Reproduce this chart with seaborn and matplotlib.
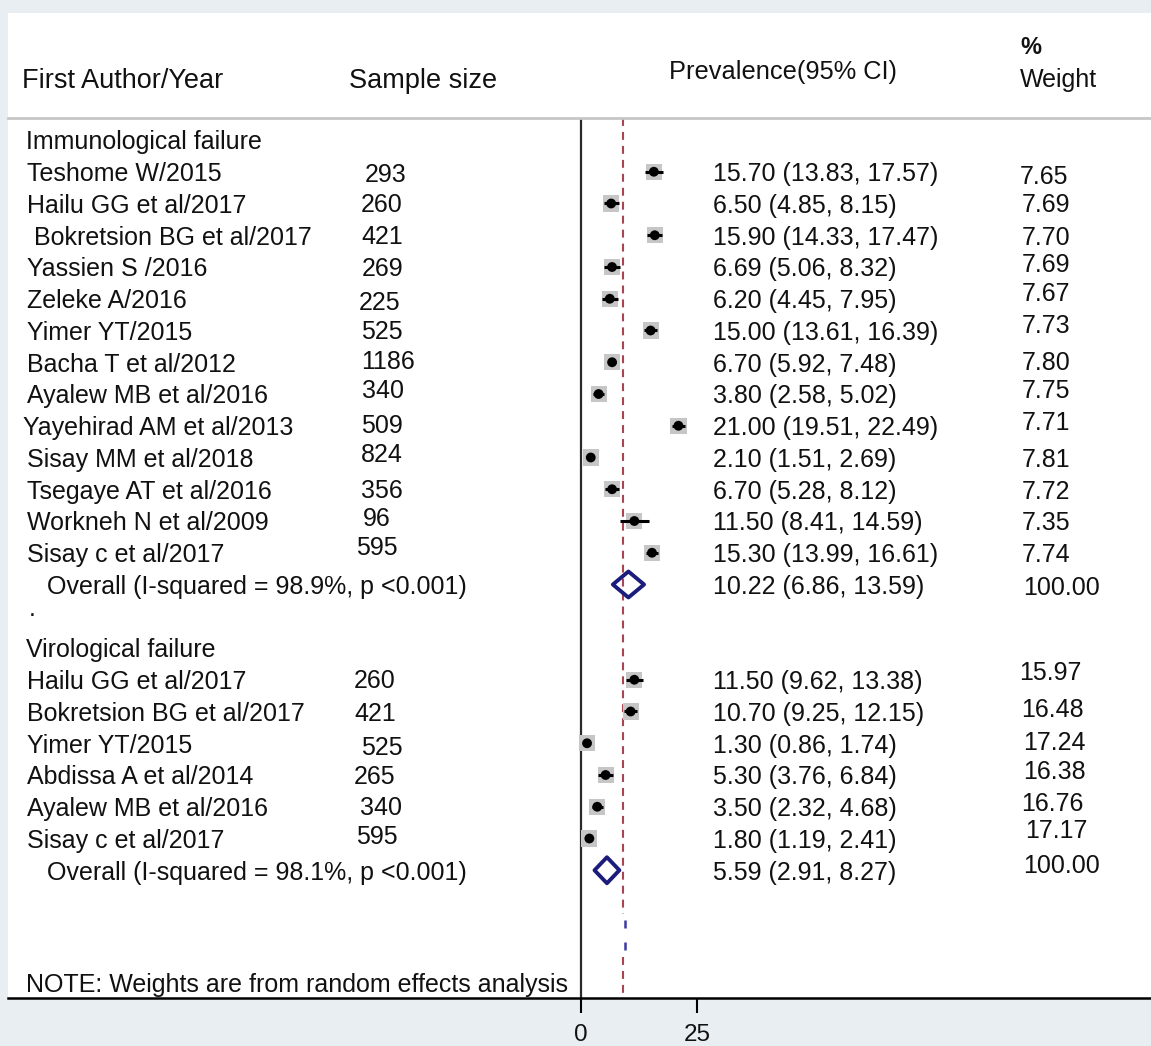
import matplotlib
matplotlib.use("Agg")
import matplotlib.pyplot as plt
import seaborn as sns
import pandas as pd
from matplotlib import transforms
from matplotlib.patches import Rectangle

# ---------------- data ----------------
immuno_authors = ["Teshome W/2015", "Hailu GG et al/2017", " Bokretsion BG et al/2017",
                  "Yassien S /2016", "Zeleke A/2016", "Yimer YT/2015", "Bacha T et al/2012",
                  "Ayalew MB et al/2016", "Yayehirad AM et al/2013", "Sisay MM et al/2018",
                  "Tsegaye AT et al/2016", "Workneh N et al/2009", "Sisay c et al/2017"]
immuno_n = [293, 260, 421, 269, 225, 525, 1186, 340, 509, 824, 356, 96, 595]
immuno_est = [15.70, 6.50, 15.90, 6.69, 6.20, 15.00, 6.70, 3.80, 21.00, 2.10, 6.70, 11.50, 15.30]
immuno_lo = [13.83, 4.85, 14.33, 5.06, 4.45, 13.61, 5.92, 2.58, 19.51, 1.51, 5.28, 8.41, 13.99]
immuno_hi = [17.57, 8.15, 17.47, 8.32, 7.95, 16.39, 7.48, 5.02, 22.49, 2.69, 8.12, 14.59, 16.61]
immuno_w = ["7.65", "7.69", "7.70", "7.69", "7.67", "7.73", "7.80", "7.75", "7.71", "7.81",
            "7.72", "7.35", "7.74"]
immuno_overall = [10.22, 6.86, 13.59]
immuno_overall_label = "Overall (I-squared = 98.9%, p <0.001)"

viro_authors = ["Hailu GG et al/2017", "Bokretsion BG et al/2017", "Yimer YT/2015",
                "Abdissa A et al/2014", "Ayalew MB et al/2016", "Sisay c et al/2017"]
viro_n = [260, 421, 525, 265, 340, 595]
viro_est = [11.50, 10.70, 1.30, 5.30, 3.50, 1.80]
viro_lo = [9.62, 9.25, 0.86, 3.76, 2.32, 1.19]
viro_hi = [13.38, 12.15, 1.74, 6.84, 4.68, 2.41]
viro_w = ["15.97", "16.48", "17.24", "16.38", "16.76", "17.17"]
viro_overall = [5.59, 2.91, 8.27]
viro_overall_label = "Overall (I-squared = 98.1%, p <0.001)"

overall_line = 9.0
xticks = [0, 25]

# ---------------- layout (pixels) ----------------
W, H, DPI = 1151, 1046, 100
X0_PX, PX_PER_UNIT = 581, 4.64
ROW0_PX, ROW_PX = 140, 31.75
AX_TOP_PX, AX_BOT_PX, PANEL_L, PANEL_T = 118, 998, 8, 13
TEXT_DY = 2.5  # global text baseline correction (pixels)

# small per-row text offsets (pixels) seen in the reference
immuno_n_dx = [4, 0, 0, 1, -2, 0, 0, 1, 0, 0, 0, 2, -5]
immuno_n_dy = [1, -1, -1, 0, 2, -1, -3, -5, -2, -5, -1, -4, -7]
immuno_w_dx = [-2, 0, 0, 0, 0, 0, 0, 0, 0, 0, 0, 0, 0]
immuno_w_dy = [3, -1, 0, -4, -7, -7, -2, -5, -5, 0, 0, 0, 0]
immuno_name_dx = [0, 0, 0, 0, 0, 0, 0, 0, -4, 0, 0, 0, 0]
viro_n_dx = [-7, -7, 0, -7, -1, -5]
viro_n_dy = [-1, 0, 2, 0, -1, -4]
viro_w_dx = [-3, -1, 1, 1, -1, 3]
viro_w_dy = [-9, -4, -3, -5, -5, -10]

# ---------------- build table ----------------
rows = []
for i in range(len(immuno_authors)):
    rows.append(dict(row=1 + i, name=immuno_authors[i], n=immuno_n[i], est=immuno_est[i],
                     lo=immuno_lo[i], hi=immuno_hi[i], w=immuno_w[i],
                     ndx=immuno_n_dx[i], ndy=immuno_n_dy[i], wdx=immuno_w_dx[i],
                     wdy=immuno_w_dy[i], namedx=immuno_name_dx[i]))
for i in range(len(viro_authors)):
    rows.append(dict(row=17 + i, name=viro_authors[i], n=viro_n[i], est=viro_est[i],
                     lo=viro_lo[i], hi=viro_hi[i], w=viro_w[i],
                     ndx=viro_n_dx[i], ndy=viro_n_dy[i], wdx=viro_w_dx[i],
                     wdy=viro_w_dy[i], namedx=0))
df = pd.DataFrame(rows)

sns.set_theme(style="white")
plt.rcParams["font.family"] = ["Liberation Sans", "DejaVu Sans"]
TXT = "#111111"
FS = 18

fig = plt.figure(figsize=(W / DPI, H / DPI), dpi=DPI, facecolor="#e8eef1")
fig.add_artist(Rectangle((PANEL_L / W, 1 - AX_BOT_PX / H), (W - PANEL_L) / W,
                         (AX_BOT_PX - PANEL_T) / H, transform=fig.transFigure,
                         facecolor="white", edgecolor="none", zorder=-5))

ax = fig.add_axes([PANEL_L / W, 1 - AX_BOT_PX / H, (W - PANEL_L) / W,
                   (AX_BOT_PX - AX_TOP_PX) / H])
ax.set_facecolor("white")
ax.set_xlim((PANEL_L - X0_PX) / PX_PER_UNIT, (W - X0_PX) / PX_PER_UNIT)
ytop = (AX_TOP_PX - ROW0_PX) / ROW_PX
ybot = (AX_BOT_PX - ROW0_PX) / ROW_PX
ax.set_ylim(ybot, ytop)

def py2row(py):
    return (py - ROW0_PX) / ROW_PX

# reference lines
ax.plot([0, 0], [ytop, ybot], color="#2a2a2a", lw=1.6, zorder=2)
red_kw = dict(color="#a94452", lw=1.5, linestyle=(0, (3.8, 2.9)), zorder=1)
ax.plot([overall_line, overall_line], [ytop, py2row(914)], **red_kw)
ax.plot([overall_line, overall_line], [py2row(957), ybot], **red_kw)
ax.plot([overall_line + 0.4, overall_line + 0.4], [py2row(920), py2row(950)],
        color="#3a3aa0", lw=1.8, linestyle=(0, (3.2, 5.6)), zorder=1)

# study boxes, CIs, points
sns.scatterplot(data=df, x="est", y="row", marker="s", s=135, color="#c6c6c6",
                edgecolor="none", ax=ax, zorder=3, legend=False)
ax.hlines(df["row"], df["lo"], df["hi"], color="black", lw=2.2, zorder=4)
sns.scatterplot(data=df, x="est", y="row", marker="o", s=50, color="black",
                edgecolor="none", ax=ax, zorder=5, legend=False)

# diamonds
half = 13 / ROW_PX
for r, (e, lo, hi) in [(14, immuno_overall), (23, viro_overall)]:
    ax.fill([lo, e, hi, e, lo], [r, r - half, r, r + half, r], facecolor="none",
            edgecolor="#1c1c7c", lw=2.8, joinstyle="round", zorder=5)

# axes styling
for s in ["left", "right"]:
    ax.spines[s].set_visible(False)
ax.spines["top"].set_color("#c6c6c6")
ax.spines["top"].set_linewidth(2.0)
ax.spines["bottom"].set_color("black")
ax.spines["bottom"].set_linewidth(1.8)
ax.set_xticks(xticks)
ax.set_xticklabels([str(t) for t in xticks])
ax.set_yticks([])
ax.tick_params(axis="x", bottom=True, direction="out", length=11, width=1.5,
               color="black", pad=8, labelsize=17.5, labelcolor=TXT)
ax.set_xlabel("")
ax.set_ylabel("")

# text columns
tr = transforms.blended_transform_factory(fig.transFigure, ax.transData)
def put(px, row, s, **kw):
    ax.text(px / W, row + TEXT_DY / ROW_PX, s, transform=tr, ha="left", va="center",
            fontsize=FS, color=TXT, clip_on=False, **kw)

put(26, 0, "Immunological failure")
put(26, 16, "Virological failure")
put(29, 15 - 0.3, ".")
for _, r in df.iterrows():
    put(27 + r["namedx"], r["row"], r["name"])
    put(361 + r["ndx"], r["row"] + r["ndy"] / ROW_PX, str(r["n"]))
    put(713, r["row"], f"{r['est']:.2f} ({r['lo']:.2f}, {r['hi']:.2f})")
    put(1022 + r["wdx"], r["row"] + r["wdy"] / ROW_PX, r["w"])

for r, vals, lab, wdy in [(14, immuno_overall, immuno_overall_label, 1),
                          (23, viro_overall, viro_overall_label, -7)]:
    put(47, r, lab)
    put(713, r, f"{vals[0]:.2f} ({vals[1]:.2f}, {vals[2]:.2f})")
    put(1023, r + wdy / ROW_PX, "100.00")

put(26, py2row(983), "NOTE: Weights are from random effects analysis")

# header
def htext(px, py, s, fs, **kw):
    fig.text(px / W, 1 - (py + TEXT_DY) / H, s, ha="left", va="center", fontsize=fs,
             color=TXT, **kw)

htext(22, 78, "First Author/Year", 19.5)
htext(349, 78, "Sample size", 19.5)
htext(669, 69, "Prevalence(95% CI)", 18.3)
htext(1020, 45, "%", 17, fontweight="bold")
htext(1020, 78, "Weight", 18)

fig.savefig("out.png", dpi=DPI, facecolor=fig.get_facecolor())
